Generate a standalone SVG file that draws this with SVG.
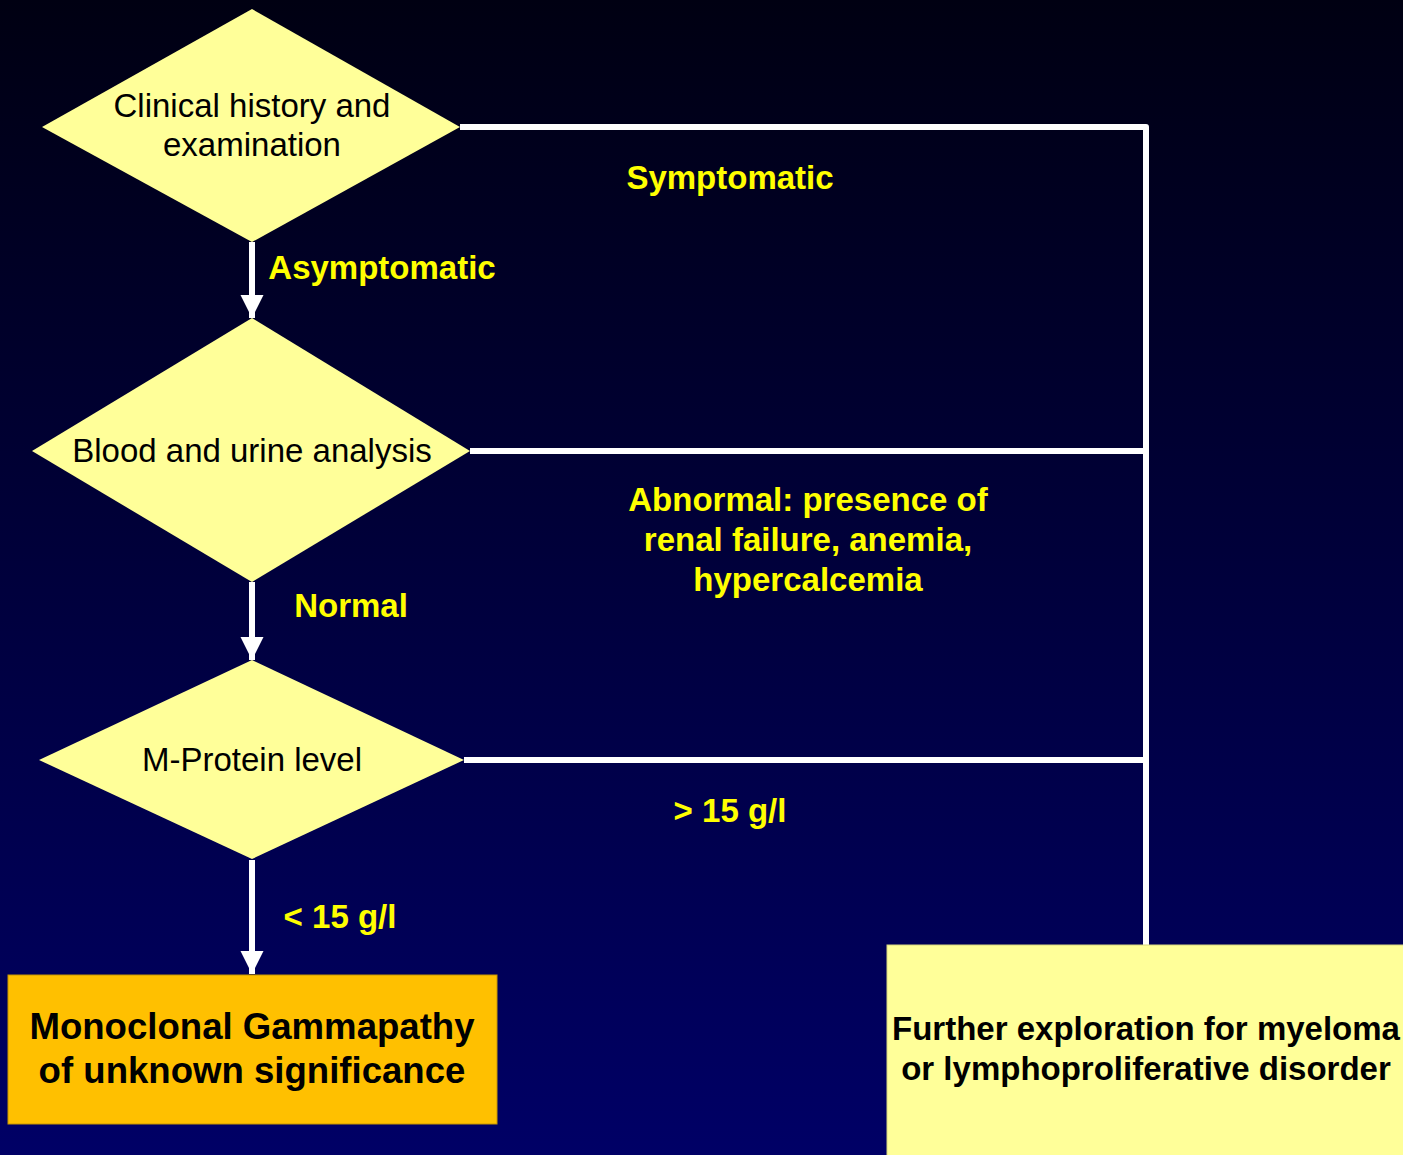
<svg xmlns="http://www.w3.org/2000/svg" width="1403" height="1155" viewBox="0 0 1403 1155">
<defs>
<linearGradient id="bg" x1="0" y1="0" x2="0" y2="1">
<stop offset="0" stop-color="#000012"/>
<stop offset="1" stop-color="#000066"/>
</linearGradient>
<marker id="ah" markerUnits="userSpaceOnUse" markerWidth="24" markerHeight="24" refX="23" refY="11.5" orient="auto" viewBox="0 0 24 23">
<path d="M0,0 L23,11.5 L0,23 z" fill="#FFFFFF"/>
</marker>
<style>
.dia{fill:#FFFF99;stroke:none}
.dt{font-family:"Liberation Sans",Arial,sans-serif;font-size:33px;fill:#000;text-anchor:middle}
.lbl{font-family:"Liberation Sans",Arial,sans-serif;font-size:33px;font-weight:bold;fill:#FFFF00;text-anchor:middle}
.bt{font-family:"Liberation Sans",Arial,sans-serif;font-weight:bold;fill:#000;text-anchor:middle}
.ln{fill:none;stroke:#FFFFFF;stroke-width:6;stroke-linejoin:round}
</style>
</defs>
<rect x="0" y="0" width="1403" height="1155" fill="url(#bg)"/>
<g id="connectors">
<path class="ln" d="M252,242 V318" marker-end="url(#ah)"/>
<path class="ln" d="M252,582 V660" marker-end="url(#ah)"/>
<path class="ln" d="M252,860 V974" marker-end="url(#ah)"/>
<path class="ln" d="M460,127 H1146 V945"/>
<path class="ln" d="M470,451 H1143"/>
<path class="ln" d="M464,760 H1143"/>
</g>
<g id="labels">
<text class="lbl" x="382" y="279">Asymptomatic</text>
<text class="lbl" x="730" y="189">Symptomatic</text>
<text class="lbl" x="351" y="617">Normal</text>
<text class="lbl" x="808" y="511">Abnormal: presence of</text>
<text class="lbl" x="808" y="551">renal failure, anemia,</text>
<text class="lbl" x="808" y="591">hypercalcemia</text>
<text class="lbl" x="730" y="822">&gt; 15 g/l</text>
<text class="lbl" x="340" y="928">&lt; 15 g/l</text>
</g>
<g id="clinical">
<polygon class="dia" points="252,9 460,127 252,242 42,127"/>
<text class="dt" x="252" y="117">Clinical history and</text>
<text class="dt" x="252" y="156">examination</text>
</g>
<g id="blood">
<polygon class="dia" points="252,318 470,451 252,582 32,451"/>
<text class="dt" x="252" y="462">Blood and urine analysis</text>
</g>
<g id="mprotein">
<polygon class="dia" points="252,660 464,760 252,859 39,760"/>
<text class="dt" x="252" y="771">M-Protein level</text>
</g>
<g id="mgus">
<rect x="8" y="975" width="489" height="149" fill="#FFC000" stroke="#C89600" stroke-width="1"/>
<text class="bt" font-size="36.6" x="252" y="1039">Monoclonal Gammapathy</text>
<text class="bt" font-size="36.6" x="252" y="1083">of unknown significance</text>
</g>
<g id="further">
<rect x="887" y="945" width="520" height="215" fill="#FFFF99" stroke="#D8D880" stroke-width="1"/>
<text class="bt" font-size="33" x="1146" y="1040">Further exploration for myeloma</text>
<text class="bt" font-size="33" x="1146" y="1080">or lymphoproliferative disorder</text>
</g>
</svg>
